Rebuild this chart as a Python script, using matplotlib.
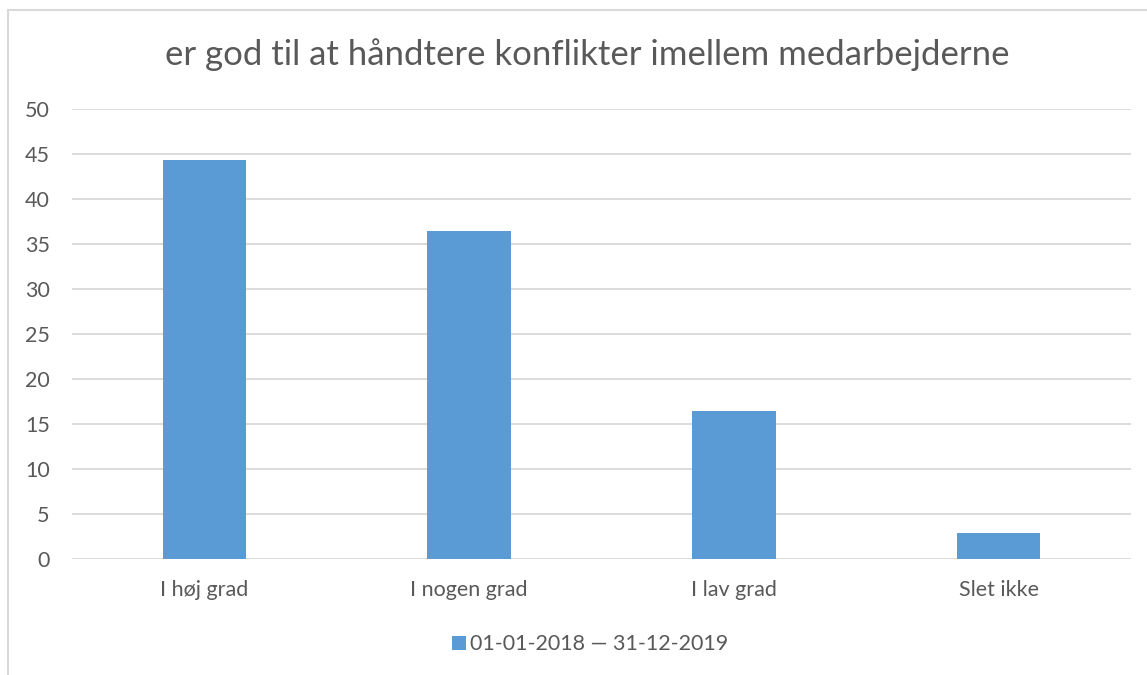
import matplotlib.pyplot as plt
from matplotlib.patches import Rectangle

categories = ['I høj grad', 'I nogen grad', 'I lav grad', 'Slet ikke']
values = [44.3, 36.5, 16.4, 2.9]
series_label = '01-01-2018 — 31-12-2019'
title = 'er god til at håndtere konflikter imellem medarbejderne'
yticks = [0, 5, 10, 15, 20, 25, 30, 35, 40, 45, 50]

bar_color = '#5b9bd5'
text_color = '#595959'
grid_color = '#d9d9d9'

plt.rcParams['font.family'] = ['Lato', 'DejaVu Sans']

fig = plt.figure(figsize=(11.47, 6.75), dpi=100)
# chart frame (only top and left edges visible in the crop)
fig.patches.append(Rectangle((8 / 1147, -0.1), 1.2, 1.1 - 10 / 675,
                             transform=fig.transFigure, fill=False,
                             edgecolor=grid_color, lw=1.5))

ax = fig.add_axes([72 / 1147, 1 - 559 / 675, (1131 - 72) / 1147, 450 / 675])
x = range(len(categories))
ax.bar(x, values, width=0.315, color=bar_color, zorder=3, label=series_label)

ax.set_xlim(-0.5, len(categories) - 0.5)
ax.set_ylim(0, 50)
ax.set_yticks(yticks)
ax.set_xticks(list(x))
ax.set_xticklabels(categories)
ax.yaxis.grid(True, color=grid_color, lw=1.3, zorder=0)
ax.set_axisbelow(True)
for s in ax.spines.values():
    s.set_visible(False)
ax.tick_params(axis='both', length=0, labelsize=15.5, colors=text_color)
ax.tick_params(axis='x', pad=15)
ax.tick_params(axis='y', pad=16)

fig.text(0.512, 1 - 55 / 675, title, ha='center', va='center',
         fontsize=25, color=text_color)

leg = ax.legend(loc='center', bbox_to_anchor=(0.489, -0.19), frameon=False,
                fontsize=15.5, handlelength=0.65, handleheight=0.65,
                handletextpad=0.2, labelcolor=text_color)

fig.savefig('out.png', dpi=100)
